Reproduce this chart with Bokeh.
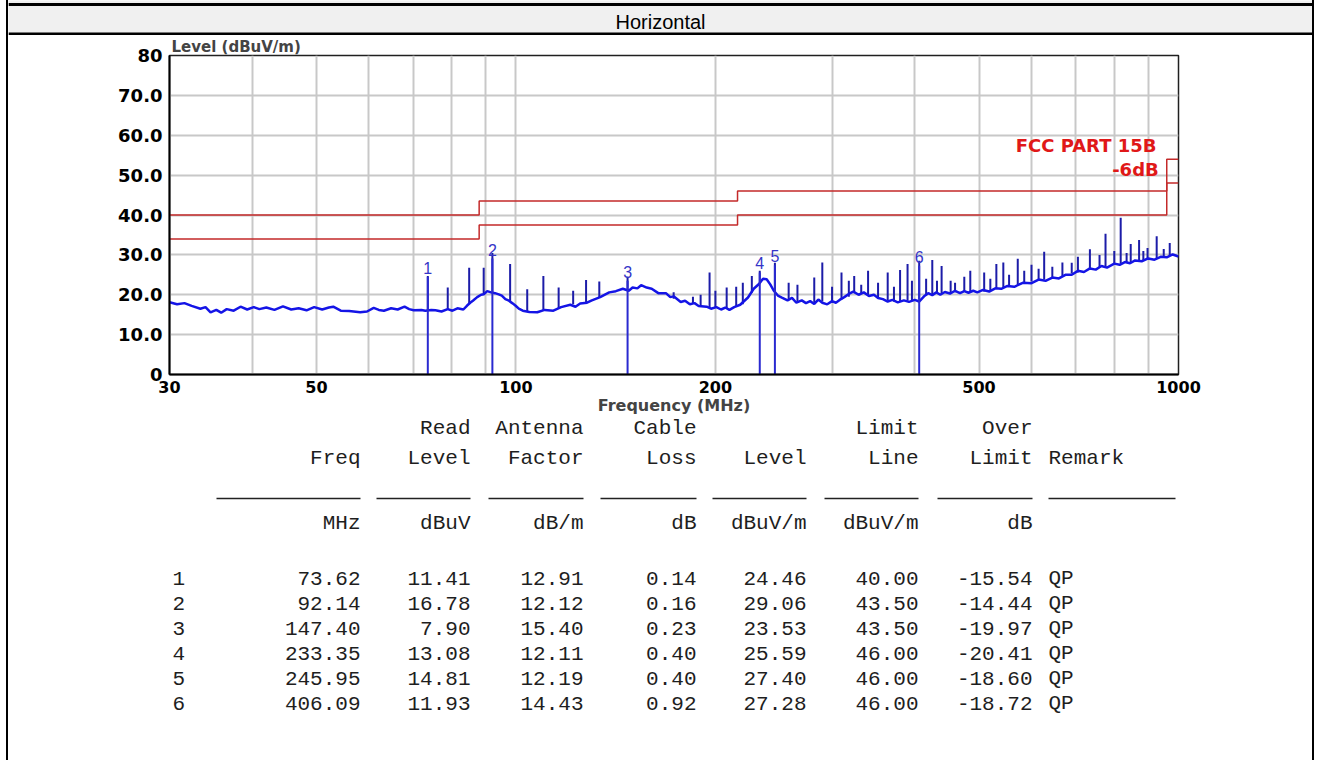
from bokeh.plotting import figure
from bokeh.models import FixedTicker, Range1d, Span
from bokeh.layouts import column
from bokeh.embed import file_html
from bokeh.resources import INLINE
from bokeh.core.properties import value

# ---------------- data ----------------
trace_freq = [30, 30.8, 31.6, 32.4, 33.4, 34.0, 34.6, 35.3, 35.9, 36.6,
              37.5, 38.4, 39.3, 40.2, 41.0, 42.0, 43.2, 44.5, 45.8, 47.0,
              48.3, 49.6, 51.0, 52.2, 53.0, 54.4, 56.0, 58.2, 59.6, 61.0,
              62.1, 63.2, 64.8, 66.3, 67.9, 69.0, 70.1, 72.0, 73.0, 74.5,
              75.6, 77.2, 78.9, 80.2, 81.6, 83.3, 84.4, 85.3, 86.1, 87.4,
              88.6, 89.4, 90.5, 91.7, 93.0, 94.2, 95.2, 96.4, 97.6, 98.7,
              99.8, 101.0, 102.4, 104.8, 107.7, 110.5, 113.9, 117.0, 120.8, 123.0,
              125.0, 128.0, 130.2, 134.0, 138.3, 141.5, 145.0, 148.0, 150.0, 152.5,
              154.5, 157.5, 160.3, 164.0, 168.4, 171.0, 173.0, 177.3, 180.0, 183.0,
              186.0, 188.7, 194.0, 197.0, 200.7, 204.0, 207.0, 210.0, 213.5, 218.0,
              224.0, 228.5, 232.7, 236.0, 239.0, 242.0, 245.0, 248.5, 252.0, 257.0,
              261.0, 265.0, 270.0, 274.0, 278.0, 282.0, 286.0, 290.0, 295.0, 300.0,
              304.0, 308.0, 313.0, 318.0, 323.0, 329.0, 335.0, 341.0, 347.0, 352.0,
              358.0, 364.0, 370.0, 377.0, 385.0, 392.0, 400.0, 406.0, 413.0, 419.0,
              425.0, 431.0, 437.0, 444.0, 452.0, 460.0, 468.0, 475.0, 482.0, 490.0,
              497.0, 507.0, 518.0, 529.0, 540.0, 552.0, 565.0, 582.0, 600.0, 615.0,
              630.0, 645.0, 660.0, 675.0, 690.0, 705.0, 720.0, 735.0, 750.0, 765.0,
              780.0, 800.0, 815.0, 830.0, 845.0, 860.0, 880.0, 900.0, 920.0, 940.0,
              960.0, 980.0, 1000.0]
trace_level = [18.1, 17.6, 17.9, 17.2, 16.5, 16.9, 15.6, 16.2, 15.5, 16.4,
               16.0, 17.0, 16.3, 16.9, 16.4, 16.8, 16.2, 17.1, 16.3, 16.6,
               16.1, 16.9, 16.3, 16.8, 17.0, 16.0, 15.9, 15.6, 15.8, 16.7,
               16.2, 16.0, 16.6, 16.3, 17.0, 16.4, 16.1, 16.2, 16.0, 16.2,
               16.1, 15.8, 16.4, 16.0, 16.6, 16.3, 17.3, 18.0, 18.5, 19.4,
               20.0, 20.1, 20.9, 20.6, 20.4, 20.1, 19.8, 18.9, 18.5, 17.9,
               17.3, 16.5, 16.0, 15.7, 15.6, 16.2, 16.0, 16.9, 17.5, 17.0,
               17.8, 18.0, 18.6, 19.4, 20.6, 20.9, 21.5, 21.0, 21.8, 21.6,
               22.4, 21.8, 21.5, 20.4, 20.4, 19.4, 19.6, 18.2, 18.5, 17.6,
               17.9, 17.2, 17.0, 16.5, 16.9, 16.3, 16.8, 16.2, 16.9, 17.5,
               19.3, 21.5, 22.7, 24.0, 23.9, 22.6, 21.0, 19.8, 19.3, 18.6,
               19.2, 18.0, 18.6, 17.9, 18.4, 17.7, 18.8, 18.0, 17.6, 18.4,
               18.0, 18.7, 19.4, 20.2, 20.8, 20.0, 20.6, 19.7, 20.0, 19.2,
               18.9, 18.3, 18.7, 18.1, 18.6, 18.2, 18.7, 18.3, 19.6, 20.4,
               19.9, 20.6, 20.0, 20.7, 20.3, 21.0, 20.4, 20.9, 20.5, 21.0,
               20.6, 21.2, 20.8, 21.6, 21.5, 22.2, 22.0, 23.0, 22.9, 23.8,
               23.5, 24.3, 24.1, 25.0, 25.0, 26.0, 25.7, 26.6, 26.3, 27.2,
               26.8, 27.8, 27.5, 28.2, 27.9, 28.6, 28.4, 29.1, 28.8, 29.5,
               29.4, 30.1, 29.6]

spike_freq = [73.62, 78.9, 85.0, 89.4, 92.14, 98.0, 104.0, 110.0, 116.0, 122.0, 127.6, 133.6, 147.4,
              173.0, 185.0, 190.0, 196.0, 200.0, 208.0, 215.0, 220.0, 227.0, 233.35, 245.95, 258.0,
              266.0, 282.0, 290.0, 300.0, 310.0, 318.0, 324.0, 332.0, 340.0, 352.0, 364.0, 372.0,
              380.0, 390.0, 396.0, 406.09, 416.0, 425.0, 432.0, 439.0, 453.0, 460.0, 475.0, 485.0,
              509.0, 520.0, 531.0, 544.0, 555.0, 572.0, 585.0, 600.0, 615.0, 627.0, 645.0, 668.0,
              690.0, 705.0, 735.0, 760.0, 776.0, 800.0, 818.0, 835.0, 847.0, 872.0, 885.0, 898.0,
              927.0, 950.0, 970.0]
spike_top = [24.7, 21.8, 26.8, 26.8, 30.5, 27.7, 21.4, 24.7, 21.8, 21.0, 23.7, 23.3, 24.5,
             20.6, 19.5, 20.0, 25.6, 21.0, 21.8, 22.0, 23.0, 24.7, 26.0, 28.0, 23.0,
             22.5, 24.3, 28.1, 22.0, 25.6, 23.5, 24.7, 22.5, 26.0, 23.0, 25.6, 22.0,
             26.2, 27.7, 23.5, 28.5, 24.0, 28.7, 23.5, 27.2, 23.5, 23.0, 24.5, 26.0,
             25.6, 24.0, 27.7, 28.1, 25.0, 29.0, 26.0, 27.5, 26.5, 30.8, 27.0, 28.1,
             28.0, 29.5, 31.4, 30.0, 35.3, 31.0, 39.3, 30.5, 32.7, 33.7, 31.0, 31.7,
             34.7, 31.5, 33.0]
spike_base = [16.1, 16.3, 17.8, 20.1, 20.5, 18.3, 15.8, 16.1, 16.6, 17.6, 18.0, 19.4, 21.4,
              19.0, 17.7, 17.3, 16.8, 16.7, 16.5, 16.9, 17.6, 20.5, 23.0, 20.7, 18.6,
              18.1, 18.1, 18.3, 17.9, 18.8, 19.5, 20.5, 20.3, 19.9, 19.4, 18.6, 18.3,
              18.4, 18.5, 18.5, 18.8, 19.8, 20.2, 20.2, 20.2, 20.6, 20.6, 20.7, 20.7,
              20.8, 21.0, 21.5, 21.9, 22.1, 22.5, 22.8, 23.3, 23.5, 23.8, 24.1, 24.6,
              25.3, 25.6, 26.3, 26.8, 27.0, 27.6, 27.8, 28.0, 28.1, 28.5, 28.6, 28.9,
              29.1, 29.3, 29.8]

limit_freq = [30, 88, 88, 216, 216, 960, 960, 1000]
limit_level = [40.0, 40.0, 43.5, 43.5, 46.0, 46.0, 54.0, 54.0]
margin_level = [34.0, 34.0, 37.5, 37.5, 40.0, 40.0, 48.0, 48.0]

marker_id = ["1", "2", "3", "4", "5", "6"]
freq_mhz = [73.62, 92.14, 147.40, 233.35, 245.95, 406.09]
read_level = [11.41, 16.78, 7.90, 13.08, 14.81, 11.93]
antenna_factor = [12.91, 12.12, 15.40, 12.11, 12.19, 14.43]
cable_loss = [0.14, 0.16, 0.23, 0.40, 0.40, 0.92]
level = [24.46, 29.06, 23.53, 25.59, 27.40, 27.28]
limit_line = [40.00, 43.50, 43.50, 46.00, 46.00, 46.00]
over_limit = [-15.54, -14.44, -19.97, -20.41, -18.60, -18.72]
remark = ["QP", "QP", "QP", "QP", "QP", "QP"]

x_ticks = [30, 50, 100, 200, 500, 1000]
x_grid = [40, 50, 60, 70, 80, 90, 100, 200, 300, 400, 500, 600, 700, 800, 900]
y_ticks = [0, 10, 20, 30, 40, 50, 60, 70, 80]
y_tick_labels = ["0", "10.0", "20.0", "30.0", "40.0", "50.0", "60.0", "70.0", "80"]

W = 1304
X0 = 8          # page x of the figures' left edge
HDR_H = 35
CH_H = 383
TB_H = 342
BOLD = value("DejaVu Sans")

# ---------------- header ----------------
hdr = figure(width=W, height=HDR_H, x_range=Range1d(0, W), y_range=Range1d(HDR_H, 0),
             output_backend="svg", toolbar_location=None, min_border=0,
             x_axis_location=None, y_axis_location=None)
hdr.frame_align = False
hdr.grid.visible = False
hdr.outline_line_color = None
hdr.background_fill_color = "#f0f0f0"
hdr.border_fill_color = "#f0f0f0"
hdr.add_layout(Span(location=4, dimension="width", line_color="black", line_width=3))
hdr.add_layout(Span(location=33.5, dimension="width", line_color="black", line_width=3))
hdr.text(x=[660 - X0], y=[21], text=["Horizontal"], text_align="center", text_baseline="middle",
         text_font=value("Liberation Sans"), text_font_size="20px", text_color="black")

# ---------------- chart ----------------
p = figure(width=W, height=CH_H, x_axis_type="log", x_range=Range1d(30, 1000), y_range=Range1d(0, 80),
           output_backend="svg", toolbar_location=None,
           min_border_left=169 - X0, min_border_right=X0 + W - 1178, min_border_top=19, min_border_bottom=44)
p.frame_align = False
p.title.text = "Level (dBuV/m)"
p.title.align = "left"
p.title.text_font = "DejaVu Sans"
p.title.text_font_size = "15px"
p.title.text_font_style = "bold"
p.title.standoff = 0
p.title.offset = 2

p.xaxis.ticker = FixedTicker(ticks=x_ticks)
p.xaxis.major_label_overrides = {t: str(t) for t in x_ticks}
p.yaxis.ticker = FixedTicker(ticks=y_ticks)
p.yaxis.major_label_overrides = dict(zip(y_ticks, y_tick_labels))
for ax in (p.xaxis, p.yaxis):
    ax.major_tick_line_color = None
    ax.minor_tick_line_color = None
    ax.axis_line_color = "black"
    ax.axis_line_width = 2
    ax.major_label_text_font = "DejaVu Sans"
    ax.major_label_text_font_style = "bold"
    ax.major_label_text_font_size = "18px"
    ax.major_label_text_color = "black"
p.yaxis.major_label_standoff = 1
p.xaxis.major_label_standoff = 0
p.xaxis.major_label_text_font_size = "16px"
p.xaxis.axis_label = "Frequency (MHz)"
p.xaxis.axis_label_text_font = "DejaVu Sans"
p.xaxis.axis_label_text_font_style = "bold"
p.xaxis.axis_label_text_font_size = "16px"
p.xaxis.axis_label_standoff = 0

p.xgrid.ticker = FixedTicker(ticks=x_grid)
p.ygrid.ticker = FixedTicker(ticks=[10, 20, 30, 40, 50, 60, 70])
p.grid.grid_line_color = "#c8c8c8"
p.grid.grid_line_width = 2
p.outline_line_color = "#202020"
p.outline_line_width = 1.5

p.line(limit_freq, limit_level, line_color="#c42a2a", line_width=1.5)
p.line(limit_freq, margin_level, line_color="#c42a2a", line_width=1.5)

p.segment(x0=spike_freq, y0=spike_base, x1=spike_freq, y1=spike_top, line_color="#1c1ca8", line_width=2)
p.line(trace_freq, trace_level, line_color="#1414e6", line_width=2.5)

p.segment(x0=freq_mhz, y0=[0] * len(freq_mhz), x1=freq_mhz, y1=level, line_color="#2a2ad0", line_width=2)
p.text(x=freq_mhz, y=level, text=marker_id, text_align="center", text_baseline="bottom", y_offset=-3,
       text_font=value("Liberation Sans"), text_font_size="16px", text_color="#3535c8")

p.text(x=[limit_freq[-2]], y=[limit_level[-1]], text=["FCC PART  15B"], text_align="right",
       text_baseline="bottom", x_offset=-4, y_offset=-3, text_font=BOLD, text_font_style="bold",
       text_font_size="18px", text_color="#e01818")
p.text(x=[limit_freq[-2]], y=[margin_level[-1]], text=["-6dB"], text_align="right",
       text_baseline="bottom", x_offset=-8, y_offset=-3, text_font=BOLD, text_font_style="bold",
       text_font_size="18px", text_color="#e01818")

# ---------------- table ----------------
t = figure(width=W, height=TB_H, x_range=Range1d(0, W), y_range=Range1d(TB_H, 0),
           output_backend="svg", toolbar_location=None, min_border=0,
           x_axis_location=None, y_axis_location=None)
t.frame_align = False
t.grid.visible = False
t.outline_line_color = None

# layout positions (page pixels) shifted into table coordinates
col_right = [x - X0 for x in [360, 470, 583, 696, 806, 918, 1032]]
col_left = [x - X0 for x in [216, 376, 488, 600, 712, 824, 937, 1048]]
ul_right = col_right + [1175 - X0]
remark_x = 1048 - X0
num_x = 172 - X0
Y0 = HDR_H + CH_H  # page y of the table top
MONO = value("Liberation Mono")
FS = "21px"
TC = "#1e1e1e"

def put(xs, ys, texts, align):
    t.text(x=xs, y=ys, text=texts, text_align=align, text_baseline="middle",
           text_font=MONO, text_font_size=FS, text_color=TC)

put([col_right[1], col_right[2], col_right[3], col_right[5], col_right[6]], [428 - Y0] * 5,
    ["Read", "Antenna", "Cable", "Limit", "Over"], "right")
put(col_right, [458 - Y0] * 7, ["Freq", "Level", "Factor", "Loss", "Level", "Line", "Limit"], "right")
put([remark_x], [458 - Y0], ["Remark"], "left")
t.segment(x0=col_left, y0=[498 - Y0] * 8, x1=ul_right, y1=[498 - Y0] * 8, line_color="#222222", line_width=1.5)
put(col_right, [523 - Y0] * 7, ["MHz", "dBuV", "dB/m", "dB", "dBuV/m", "dBuV/m", "dB"], "right")

row_y = [578 - Y0 + 25 * i for i in range(len(freq_mhz))]
put([num_x] * len(marker_id), row_y, marker_id, "left")
cols = [freq_mhz, read_level, antenna_factor, cable_loss, level, limit_line, over_limit]
for cx, vals in zip(col_right, cols):
    put([cx] * len(vals), row_y, ["%.2f" % v for v in vals], "right")
put([remark_x] * len(remark), row_y, remark, "left")

layout = column(hdr, p, t, spacing=0,
                styles={"margin-left": "6px", "border-left": "2px solid black",
                        "border-right": "2px solid black"})

open("out.html", "w").write(file_html(layout, INLINE))
